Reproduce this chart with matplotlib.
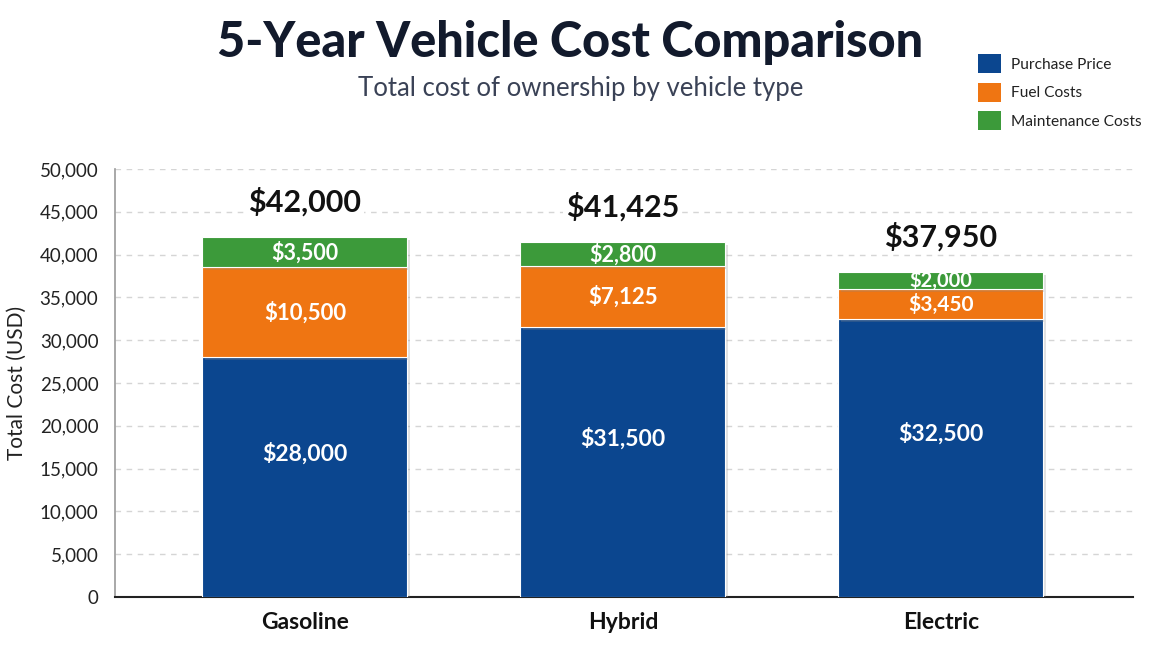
import matplotlib
matplotlib.use("Agg")
import matplotlib.pyplot as plt
import matplotlib.patheffects as pe
from matplotlib.patches import Patch
import numpy as np

categories = ["Gasoline", "Hybrid", "Electric"]
purchase = [28000, 31500, 32500]
fuel = [10500, 7125, 3450]
maintenance = [3500, 2800, 2000]
series_names = ["Purchase Price", "Fuel Costs", "Maintenance Costs"]
yticks = [0, 5000, 10000, 15000, 20000, 25000, 30000, 35000, 40000, 45000, 50000]

colors = ["#0b468f", "#ef7512", "#3c9a3a"]
FONT = ["Lato", "DejaVu Sans"]
plt.rcParams["font.family"] = FONT

fig = plt.figure(figsize=(11.68, 6.57), dpi=100)
fig.patch.set_facecolor("white")
ax = fig.add_axes([0.0985, 0.0913, 0.8715, 0.6515])

x = np.arange(len(categories))
w = 0.645
shadow = [pe.SimplePatchShadow(offset=(2, -2), shadow_rgbFace="#888888", alpha=0.25), pe.Normal()]
b1 = ax.bar(x, purchase, w, color=colors[0], edgecolor="white", linewidth=0.8, zorder=3)
bottom2 = np.array(purchase)
b2 = ax.bar(x, fuel, w, bottom=bottom2, color=colors[1], edgecolor="white", linewidth=0.8, zorder=3)
bottom3 = bottom2 + np.array(fuel)
b3 = ax.bar(x, maintenance, w, bottom=bottom3, color=colors[2], edgecolor="white", linewidth=0.8, zorder=3)
for bars in (b1, b2, b3):
    for r in bars:
        r.set_path_effects(shadow)

totals = bottom3 + np.array(maintenance)

for i in range(len(categories)):
    small = fuel[i] < 5000
    ax.text(x[i], purchase[i] / 2 + 2800, f"${purchase[i]:,}", ha="center", va="center",
            color="white", fontsize=16.5, fontweight="bold", zorder=5)
    ax.text(x[i], bottom2[i] + fuel[i] / 2, f"${fuel[i]:,}", ha="center", va="center",
            color="white", fontsize=15 if small else 16, fontweight="bold", zorder=5)
    ax.text(x[i], bottom3[i] + maintenance[i] / 2, f"${maintenance[i]:,}", ha="center", va="center",
            color="white", fontsize=14.5 if small else 15.5, fontweight="bold", zorder=5)
    ax.text(x[i], totals[i] + 4150, f"${totals[i]:,}", ha="center", va="center",
            color="#111111", fontsize=22, fontweight="bold", zorder=5,
            bbox=dict(facecolor="white", edgecolor="none", pad=2))

ax.set_xlim(-0.597, 2.604)
ax.set_ylim(0, 50000)
ax.set_yticks(yticks)
ax.set_yticklabels([f"{v:,}" for v in yticks])
ax.set_xticks(x)
ax.set_xticklabels(categories, fontsize=16.5, fontweight="bold", color="#111111")
ax.tick_params(axis="y", length=0, labelsize=13.5, labelcolor="#222222", pad=12)
ax.tick_params(axis="x", length=0, pad=11)
ax.set_ylabel("Total Cost (USD)", fontsize=15, color="#222222", labelpad=9)

ax.grid(axis="y", linestyle=(0, (4, 4)), color="#d5d5d5", linewidth=1, zorder=0)
ax.set_axisbelow(True)
for s in ["top", "right"]:
    ax.spines[s].set_visible(False)
ax.spines["left"].set_color("#9a9a9a")
ax.spines["left"].set_linewidth(1.2)
ax.spines["bottom"].set_color("#222222")
ax.spines["bottom"].set_linewidth(1.5)

fig.text(0.488, 0.935, "5-Year Vehicle Cost Comparison", ha="center", va="center",
         fontsize=35, fontweight="black", color="#121a2c")
fig.text(0.497, 0.866, "Total cost of ownership by vehicle type", ha="center", va="center",
         fontsize=18.5, color="#3a4256")

handles = [Patch(facecolor=c, edgecolor="none", label=n) for c, n in zip(colors, series_names)]
leg = fig.legend(handles=handles, loc="upper left", bbox_to_anchor=(0.832, 0.927),
                 frameon=False, fontsize=11.2, handlelength=1.5, handleheight=1.5,
                 labelspacing=0.62, handletextpad=0.6, borderaxespad=0)
for t in leg.get_texts():
    t.set_color("#222222")

fig.savefig("out.png", dpi=100, facecolor="white")
